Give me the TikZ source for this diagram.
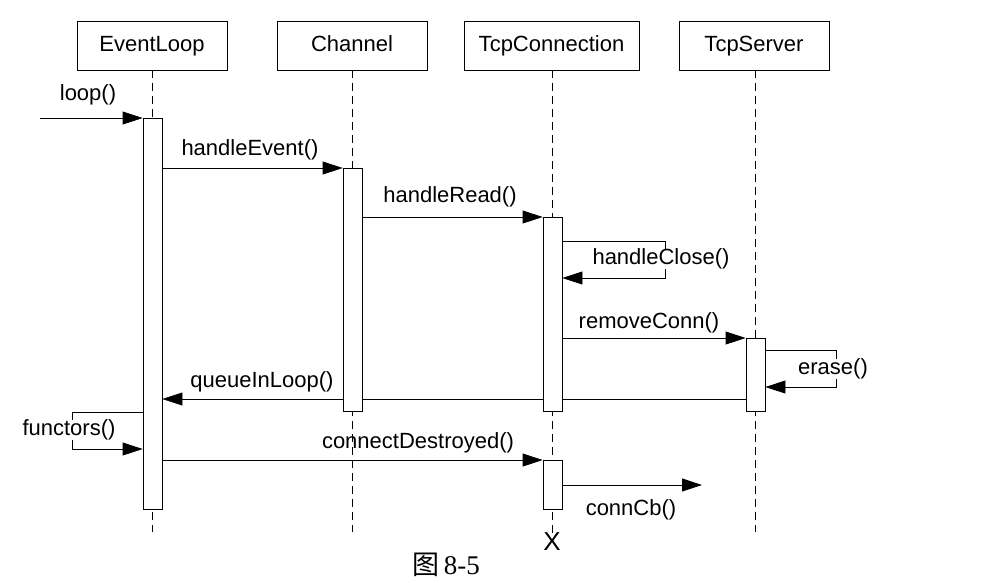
\documentclass[tikz,border=0pt]{standalone}
\usepackage{fontspec}
\setmainfont{Liberation Sans}
\newfontfamily\cjkfont{Noto Sans CJK SC}
\newfontfamily\capserif{Liberation Serif}
\usetikzlibrary{arrows.meta,backgrounds}

\begin{document}
\begin{tikzpicture}[x=1pt,y=-1pt,line width=0.8pt,
  obj/.style={draw,minimum height=49pt,inner sep=0pt,text height=16pt,text depth=4.5pt,
    font=\fontsize{22}{26}\selectfont},
  lifeline/.style={dash pattern=on 8pt off 5pt},
  act/.style={draw,fill=white,minimum width=19pt,inner sep=0pt,anchor=north},
  msg/.style={-{Triangle[length=20pt,width=13pt]}},
  lbl/.style={inner sep=0pt,font=\fontsize{22}{26}\selectfont},
  selflbl/.style={lbl,fill=white,inner xsep=1pt}]

\useasboundingbox (0,0) rectangle (998,582);

% object heads
\node[obj,minimum width=150pt] (el) at (152,45.5) {EventLoop};
\node[obj,minimum width=150pt] (ch) at (352,45.5) {Channel};
\node[obj,minimum width=175pt] (tc) at (551.5,45.5) {TcpConnection};
\node[obj,minimum width=150pt] (ts) at (754,45.5) {TcpServer};

% destruction mark of the connection
\node[inner sep=0pt,font=\fontsize{26}{30}\selectfont] (kill) at (552,542) {X};

% lifelines
\coordinate (elEnd) at (152.5,532);
\coordinate (chEnd) at (352.5,532);
\coordinate (tsEnd) at (755.5,532);
\draw[lifeline] (el.south -| elEnd) -- (elEnd);
\draw[lifeline] (ch.south -| chEnd) -- (chEnd);
\draw[lifeline] (tc.south -| kill) -- (kill.north);
\draw[lifeline] (ts.south -| tsEnd) -- (tsEnd);

% activation bars
\node[act,minimum height=391pt] (elA) at (152.5,118) {};
\node[act,minimum height=243pt] (chA) at (352.5,168) {};
\node[act,minimum height=194pt] (tc1) at (552.5,217) {};
\node[act,minimum height=73pt]  (tsA) at (755.5,338) {};
\node[act,minimum height=49pt]  (tc2) at (552.5,460) {};

% messages
\coordinate (start) at (40,118);
\draw[msg] (start) -- (elA.north west);
\node[lbl] (lLoop) at (88,95) {loop()};

\draw[msg] (elA.east |- 0,168) -- (chA.north west);
\node[lbl] (lEvent) at (250,150) {handleEvent()};

\draw[msg] (chA.east |- 0,217) -- (tc1.north west);
\node[lbl] (lRead) at (450,197) {handleRead()};

\coordinate (hcR) at (665,241);
\draw[msg] (tc1.east |- hcR) -- (hcR) -- (hcR |- 0,278) -- (tc1.east |- 0,278);
\node[selflbl] (lClose) at (661,259) {handleClose()};

\draw[msg] (tc1.east |- 0,338) -- (tsA.north west);
\node[lbl] (lRemove) at (649,323) {removeConn()};

\coordinate (erR) at (836,350);
\draw[msg] (tsA.east |- erR) -- (erR) -- (erR |- 0,387) -- (tsA.east |- 0,387);
\node[selflbl] (lErase) at (833,369) {erase()};

\begin{scope}[on background layer]
\draw[msg] (tsA.west |- 0,399) -- (elA.east |- 0,399);
\end{scope}
\node[lbl] (lQueue) at (262,382) {queueInLoop()};

\coordinate (fnL) at (72,412);
\draw[msg] (elA.west |- fnL) -- (fnL) -- (fnL |- 0,449) -- (elA.west |- 0,449);
\node[selflbl] (lFunc) at (69,430) {functors()};

\draw[msg] (elA.east |- 0,460) -- (tc2.north west);
\node[lbl] (lDestroy) at (418,443) {connectDestroyed()};

\coordinate (cbEnd) at (702,485);
\draw[msg] (tc2.east |- cbEnd) -- (cbEnd);
\node[lbl] (lCb) at (631,510) {connCb()};

% caption
\node[inner sep=0pt,font=\fontsize{27}{30}\selectfont] (cap) at (446,565) {{\cjkfont 图}\,{\capserif 8-5}};
\end{tikzpicture}
\end{document}
